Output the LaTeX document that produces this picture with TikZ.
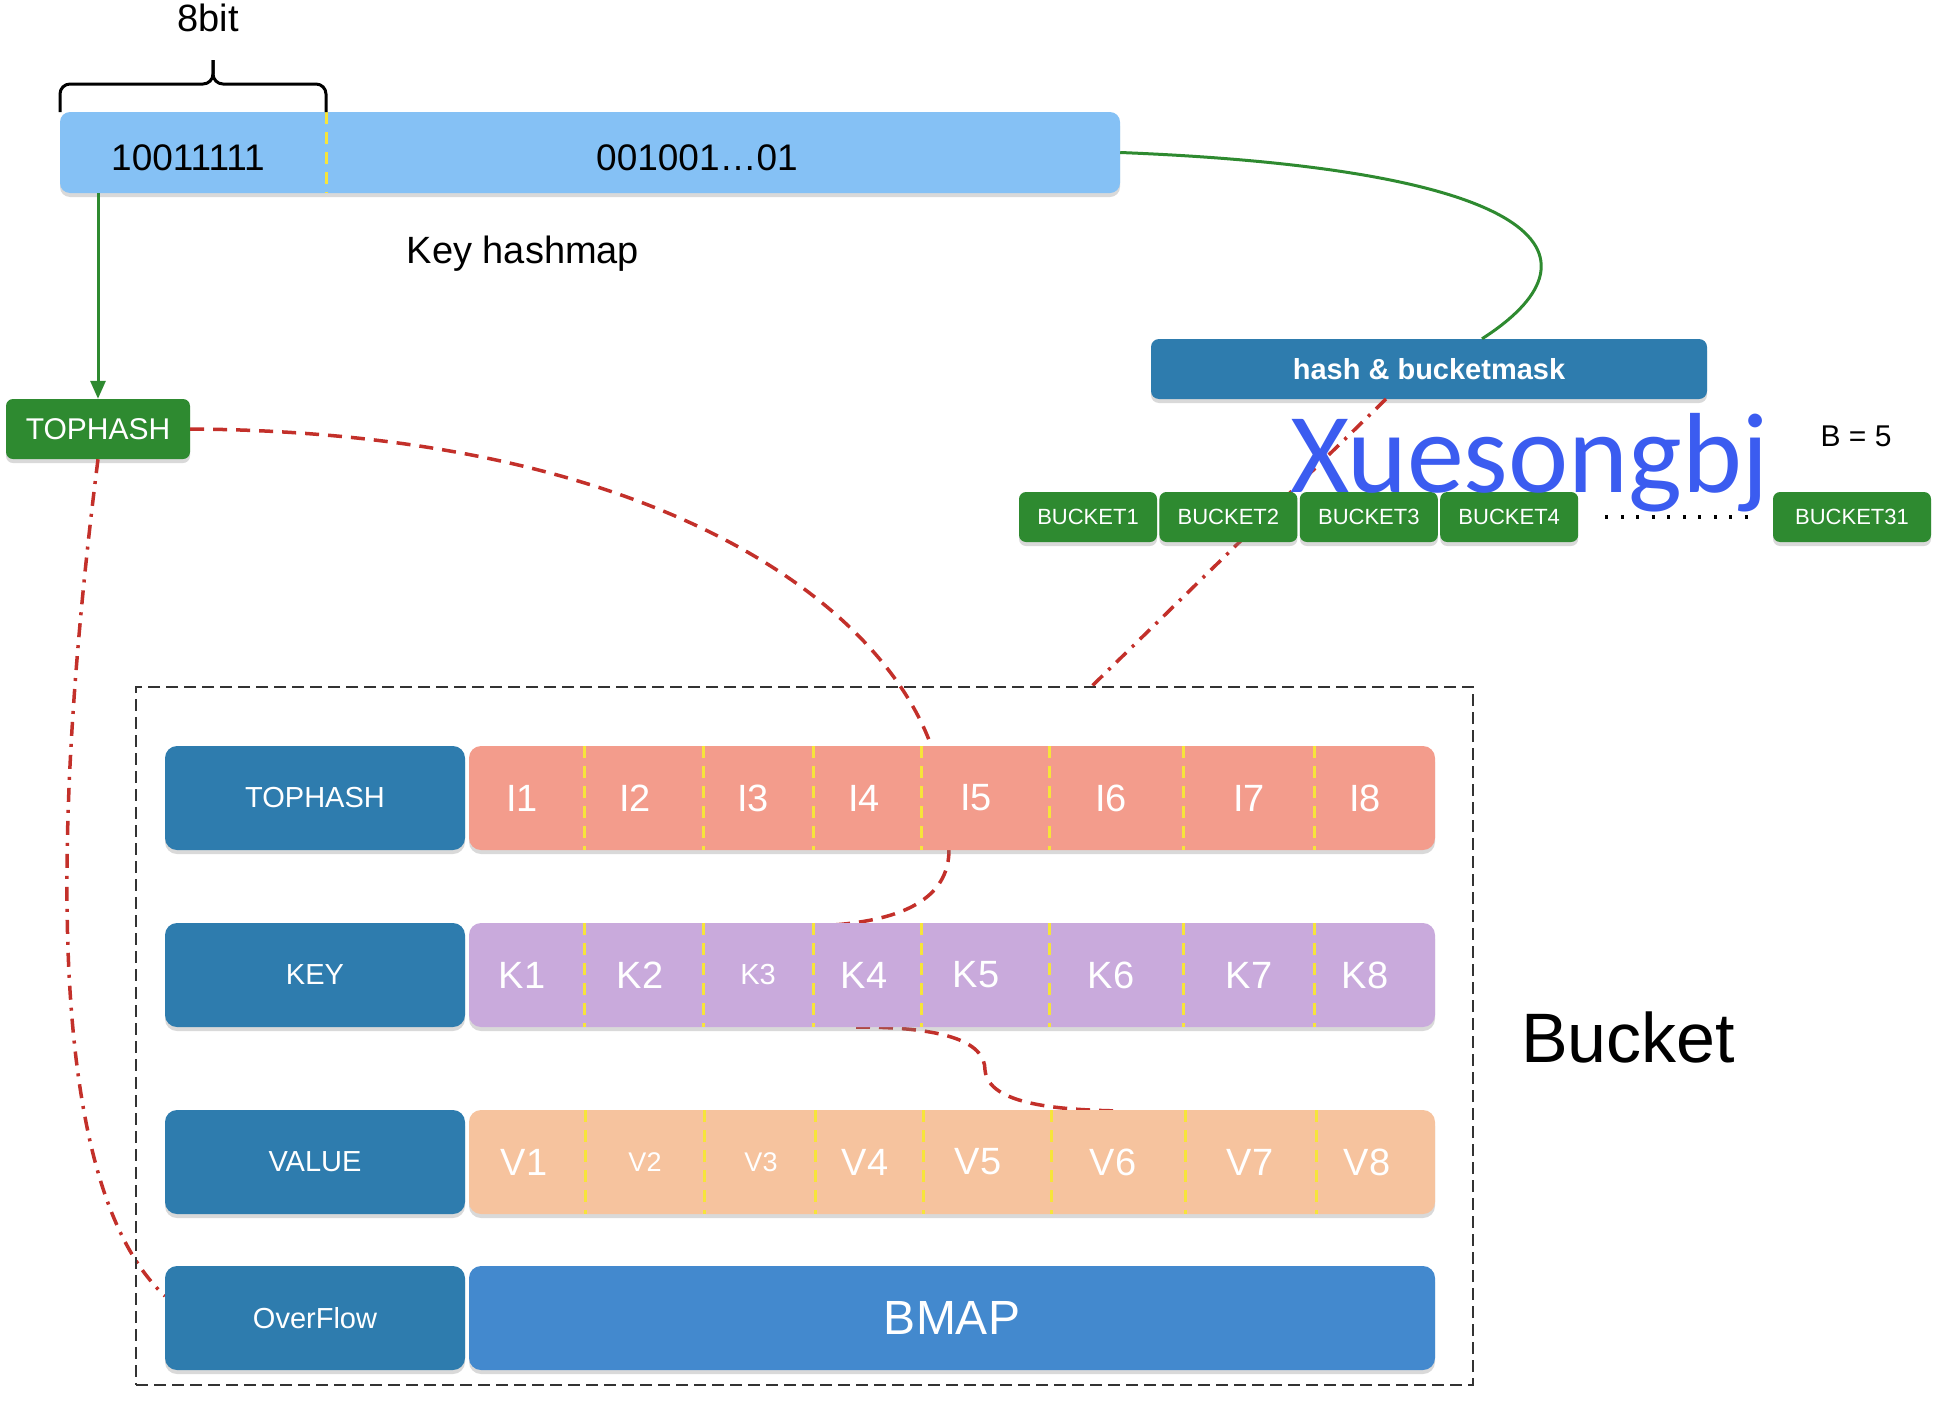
\documentclass[tikz,border=0pt]{standalone}
\usepackage{fontspec}
\setmainfont{Liberation Sans}
\newfontfamily\wmfont{Carlito}
\usetikzlibrary{positioning,calc,shadows,arrows.meta}

\definecolor{hashblue}{HTML}{85C1F5}
\definecolor{steel}{HTML}{2E7CAE}
\definecolor{bmapblue}{HTML}{4389CE}
\definecolor{grn}{HTML}{2E8A30}
\definecolor{salmon}{HTML}{F39C8C}
\definecolor{lav}{HTML}{C9AADC}
\definecolor{peach}{HTML}{F6C39E}
\definecolor{yel}{HTML}{F6E43A}
\definecolor{dred}{HTML}{C3302A}
\definecolor{wmblue}{HTML}{3B5CF0}

\newcommand{\fsz}[1]{\fontsize{#1}{#1}\selectfont}

\tikzset{
  soft/.style={drop shadow={shadow xshift=0pt,shadow yshift=-4pt,opacity=.3}},
  lbl/.style={fill=steel, rounded corners=12pt, text=white, minimum width=300pt, minimum height=104pt, font=\fsz{29}, soft},
  rowbar/.style={rounded corners=12pt, minimum width=966pt, minimum height=104pt, soft},
  gbox/.style={fill=grn, rounded corners=7pt, text=white, minimum height=50pt, inner sep=0pt, font=\fsz{22}, soft},
  cell/.style={text=white, font=\fsz{38}},
  ydiv/.style={draw=yel, line width=3pt, dash pattern=on 12pt off 8pt},
  gline/.style={draw=grn, line width=3pt},
  rdash/.style={draw=dred, line width=3.5pt, dash pattern=on 14pt off 9pt},
  rdot/.style={draw=dred, line width=3.5pt, dash pattern=on 14pt off 8pt on 3pt off 8pt}
}

\begin{document}
\begin{tikzpicture}[x=1pt,y=-1pt]
\useasboundingbox (0,0) rectangle (1944,1416);

% Key hash
\node[fill=hashblue, rounded corners=10pt, minimum width=1060pt, minimum height=81pt, soft] (hashbar) at (590,152.5) {};
\draw[ydiv] (326,112) -- (326,193);
\node[anchor=base, font=\fsz{37}] (hibits) at (188,170) {10011111};
\node[anchor=base, font=\fsz{37}] (lobits) at (697,170) {001001…01};
\node[anchor=base, font=\fsz{38}] (hmlabel) at (523,263) {Key hashmap};

% 8bit bracket
\draw[line width=3pt, rounded corners=10pt] (60,112) -- (60,84) -- (213,84) -- (213,60);
\draw[line width=3pt, rounded corners=10pt] (213,60) -- (213,84) -- (326,84) -- (326,112);
\node[anchor=base, font=\fsz{38}] (eightbit) at (208,31) {8bit};

% Tophash
\node[gbox, minimum width=184pt, minimum height=60pt, font=\fsz{30}] (thgreen) at (98,429) {TOPHASH};
\draw[gline, -{Triangle[width=15pt,length=18pt]}] (thgreen.north |- hashbar.south) -- (thgreen.north);

% Hash & bucketmask
\node[lbl, minimum width=556pt, minimum height=60pt, rounded corners=8pt, font=\bfseries\fsz{29}] (hashmask) at (1429,369) {hash \& bucketmask};
\draw[gline] (hashbar.east) .. controls (1560,170) and (1605,260) .. ($(hashmask.north)+(53,0)$);
\node[font=\fsz{30}] (bsize) at (1856,436) {B = 5};

% Links to the bucket
\coordinate (hmout) at (1386,399);
\coordinate (boxin) at (1091,687);
\draw[rdot] (hmout) -- (boxin);
\coordinate (ovfin) at (165,1296);
\draw[rdot] (thgreen.south) .. controls (55,800) and (40,1180) .. (ovfin);
\coordinate (i5in) at (932,748);
\coordinate (i5out) at (949,848);
\coordinate (k4in) at (833,925);
\coordinate (k4out) at (856,1027);
\coordinate (v6in) at (1122,1111);
\draw[rdash] (thgreen.east) .. controls (650,432) and (880,600) .. (i5in);
\draw[rdash] (i5out) .. controls (950,900) and (900,920) .. (k4in);
\draw[rdash] (k4out) .. controls (940,1027) and (985,1040) .. (985,1070) .. controls (988,1105) and (1060,1110) .. (v6in);

% Buckets
\node[gbox, minimum width=138pt] (b1) at (1088,517) {BUCKET1};
\node[gbox, minimum width=138pt, right=2pt of b1] (b2) {BUCKET2};
\node[gbox, minimum width=138pt, right=2pt of b2] (b3) {BUCKET3};
\node[gbox, minimum width=138pt, right=2pt of b3] (b4) {BUCKET4};
\node[gbox, minimum width=158pt] (b31) at (1852,517) {BUCKET31};
\draw[line width=4pt, dash pattern=on 3pt off 12.5pt, shorten <=27pt, shorten >=20pt] (b4.east) -- (b31.west);

% Bucket
\node[draw=black!80, dashed, line width=2pt, dash pattern=on 12pt off 6pt, minimum width=1337pt, minimum height=698pt] (bucketbox) at (804.5,1036) {};
\node[font=\fsz{70}] (bucketlbl) at (1628,1037) {Bucket};

% TOPHASH row
\node[lbl] (lthash) at (315,798) {TOPHASH};
\node[rowbar, fill=salmon] (bthash) at (952,798) {};
\foreach \x in {584,703,813,921,1049,1183,1314}
  \draw[ydiv] (\x,746) -- (\x,850);
\foreach \x/\t in {522/I1,635/I2,753/I3,864/I4,976/I5,1111/I6,1249/I7,1365/I8}
  \node[cell] (c\t) at (\x,798) {\t};

% KEY row
\node[lbl] (lkey) at (315,975) {KEY};
\node[rowbar, fill=lav] (bkey) at (952,975) {};
\foreach \x in {584,703,813,921,1049,1183,1314}
  \draw[ydiv] (\x,923) -- (\x,1027);
\foreach \x/\t/\s in {522/K1/38,640/K2/38,758/K3/29,864/K4/38,976/K5/38,1111/K6/38,1249/K7/38,1365/K8/38}
  \node[cell, font=\fsz{\s}] (c\t) at (\x,975) {\t};

% VALUE row
\node[lbl] (lval) at (315,1162) {VALUE};
\node[rowbar, fill=peach] (bval) at (952,1162) {};
\foreach \x in {585,704,815,923,1051,1185,1316}
  \draw[ydiv] (\x,1110) -- (\x,1214);
\foreach \x/\t/\s in {524/V1/38,645/V2/27,761/V3/27,865/V4/38,978/V5/38,1113/V6/38,1250/V7/38,1367/V8/38}
  \node[cell, font=\fsz{\s}] (c\t) at (\x,1162) {\t};

% OverFlow row
\node[lbl] (lovf) at (315,1318) {OverFlow};
\node[rowbar, fill=bmapblue, text=white, font=\fsz{48}] (bmap) at (952,1318) {BMAP};

% Watermark
\node[anchor=base west, inner sep=0pt, text=wmblue, font=\wmfont\fsz{114}] (wm) at (1290,492) {Xuesongbj};
\end{tikzpicture}
\end{document}
